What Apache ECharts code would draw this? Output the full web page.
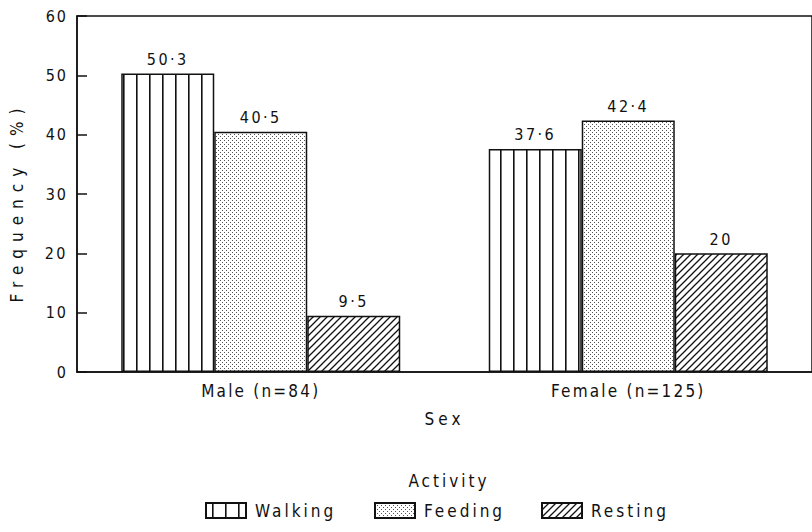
<!DOCTYPE html>
<html>
<head>
<meta charset="utf-8">
<script src="https://cdn.jsdelivr.net/npm/echarts@6/dist/echarts.min.js"></script>
<style>
  html, body { margin: 0; padding: 0; background: #fff; }
  #chart { width: 812px; height: 532px; }
</style>
</head>
<body>
<div id="chart"></div>
<script>
// data
var categories = ['Male (n=84)', 'Female (n=125)']
var walking = [50.3, 37.6]
var feeding = [40.5, 42.4]
var resting = [9.5, 20]
var yTicks = [0, 10, 20, 30, 40, 50, 60]
var activities = ['Walking', 'Feeding', 'Resting']

var FONT = "'DejaVu Sans Condensed', 'Liberation Sans Narrow', sans-serif"
var INK = '#111'

// small canvases used as fill patterns
function makePattern(kind) {
  var c = document.createElement('canvas')
  var ctx
  if (kind === 'vline') {
    c.width = 13; c.height = 4
    ctx = c.getContext('2d')
    ctx.fillStyle = '#fff'; ctx.fillRect(0, 0, 13, 4)
    ctx.fillStyle = INK; ctx.fillRect(6, 0, 1.6, 4)
  } else if (kind === 'dots') {
    c.width = 4; c.height = 4
    ctx = c.getContext('2d')
    ctx.fillStyle = '#fff'; ctx.fillRect(0, 0, 4, 4)
    ctx.fillStyle = '#555'
    ctx.fillRect(0, 0, 1, 1)
    ctx.fillRect(2, 2, 1, 1)
  } else {
    c.width = 7; c.height = 7
    ctx = c.getContext('2d')
    ctx.fillStyle = '#fff'; ctx.fillRect(0, 0, 7, 7)
    ctx.strokeStyle = INK; ctx.lineWidth = 1.3
    ctx.beginPath()
    ctx.moveTo(-1, 8); ctx.lineTo(8, -1)
    ctx.moveTo(-1, 1); ctx.lineTo(1, -1)
    ctx.moveTo(6, 8); ctx.lineTo(8, 6)
    ctx.stroke()
  }
  return { image: c.toDataURL(), imageWidth: c.width, imageHeight: c.height, repeat: 'repeat' }
}

var patterns = { Walking: makePattern('vline'), Feeding: makePattern('dots'), Resting: makePattern('hatch') }

function barSeries(name, data) {
  return {
    name: name,
    type: 'bar',
    data: data,
    barWidth: 93,
    barGap: '0%',
    itemStyle: { color: patterns[name], borderColor: INK, borderWidth: 1.5 },
    label: {
      show: true,
      position: 'top',
      distance: 6,
      formatter: function (p) { return String(p.value).replace('.', '·') },
      color: INK,
      fontFamily: FONT,
      fontSize: 16
    }
  }
}

// one legend per item so each sits where the reference has it
var legendLeft = [205, 374, 541]
var legends = activities.map(function (a, i) {
  return {
    left: legendLeft[i],
    top: 502,
    padding: 0,
    icon: 'rect',
    itemWidth: 40,
    itemHeight: 15,
    textStyle: { fontFamily: FONT, fontSize: 17, color: INK, padding: [0, 0, 0, 4] },
    data: [a]
  }
})

var chart = echarts.init(document.getElementById('chart'), null, { renderer: 'svg' })
chart.setOption({
  backgroundColor: '#fff',
  animation: false,
  title: {
    text: 'Activity',
    left: 444,
    top: 467,
    textAlign: 'center',
    textStyle: { fontFamily: FONT, fontSize: 17, fontWeight: 'normal', color: INK }
  },
  legend: legends,
  grid: {
    left: 76,
    top: 16,
    width: 740,
    bottom: 160,
    show: true,
    borderColor: INK,
    borderWidth: 1.5
  },
  xAxis: {
    type: 'category',
    data: categories,
    name: 'Sex',
    nameLocation: 'middle',
    nameGap: 38,
    nameTextStyle: { fontFamily: FONT, fontSize: 17, color: INK },
    axisLine: { lineStyle: { color: INK, width: 1.5 } },
    axisTick: { show: true, inside: true, alignWithLabel: true, length: 9, lineStyle: { color: INK, width: 1.5 } },
    axisLabel: { margin: 10, fontFamily: FONT, fontSize: 17, color: INK }
  },
  yAxis: {
    type: 'value',
    min: yTicks[0],
    max: yTicks[yTicks.length - 1],
    interval: 10,
    name: 'Frequency (%)',
    nameLocation: 'middle',
    nameGap: 52,
    nameTextStyle: { fontFamily: FONT, fontSize: 17, color: INK, padding: [0, 16, 0, 0] },
    axisLine: { show: true, lineStyle: { color: INK, width: 1.5 } },
    axisTick: { show: true, inside: true, length: 10, lineStyle: { color: INK, width: 1.5 } },
    axisLabel: { margin: 9, fontFamily: FONT, fontSize: 16, color: INK },
    splitLine: { show: false }
  },
  series: activities.map(function (a, i) {
    return barSeries(a, [walking, feeding, resting][i])
  })
})

// the reference sets its lettering widely spaced
var spacing = { 'Frequency (%)': 7, 'Sex': 4, 'Activity': 3, 'Walking': 3, 'Feeding': 3, 'Resting': 3 }
document.querySelectorAll('#chart text').forEach(function (t) {
  var s = t.textContent
  if (spacing[s] != null) t.style.letterSpacing = spacing[s] + 'px'
  else if (s.indexOf('·') >= 0 || s === '20') t.style.letterSpacing = '2.5px'
  else if (/^\d+$/.test(s)) t.style.letterSpacing = '2px'
  else if (s.indexOf('(n=') >= 0) t.style.letterSpacing = '2.2px'
})
</script>
</body>
</html>
